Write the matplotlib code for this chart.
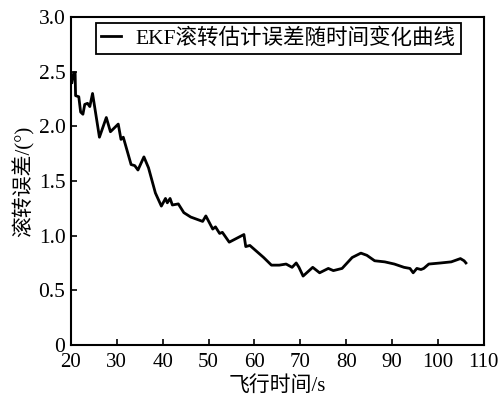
import matplotlib
matplotlib.use("Agg")
import matplotlib.pyplot as plt

# roll error of EKF estimate vs flight time
t = [20.2, 20.6, 20.9, 21.0, 21.7, 22.1, 22.6, 23.0, 23.6, 24.1, 24.7, 26.2, 27.7, 28.6,
     30.3, 30.9, 31.4, 33.1, 33.9, 34.6, 35.9, 36.9, 38.4, 39.7, 40.6, 41.0, 41.6, 42.1,
     43.4, 44.6, 46.1, 48.7, 49.4, 50.9, 51.5, 52.4, 53.0, 54.5, 57.7, 58.1, 59.0, 62.0,
     63.7, 65.4, 66.9, 68.2, 69.1, 69.7, 70.6, 72.7, 74.2, 76.1, 77.2, 79.1, 81.3, 83.2,
     84.5, 86.2, 88.4, 90.5, 92.6, 93.9, 94.6, 95.4, 96.3, 96.9, 98.0, 100.6, 102.9,
     104.9, 105.7, 106.1]
err = [2.40, 2.49, 2.49, 2.28, 2.27, 2.13, 2.11, 2.20, 2.21, 2.18, 2.30, 1.90, 2.08, 1.95,
       2.02, 1.88, 1.90, 1.65, 1.64, 1.60, 1.72, 1.62, 1.39, 1.27, 1.34, 1.30, 1.34, 1.28,
       1.29, 1.21, 1.17, 1.13, 1.18, 1.06, 1.08, 1.02, 1.03, 0.94, 1.01, 0.90, 0.91, 0.80,
       0.73, 0.73, 0.74, 0.71, 0.75, 0.71, 0.63, 0.71, 0.66, 0.70, 0.68, 0.70, 0.80, 0.84,
       0.82, 0.77, 0.76, 0.74, 0.71, 0.70, 0.66, 0.70, 0.69, 0.70, 0.74, 0.75, 0.76,
       0.79, 0.77, 0.75]

xticks = [20, 30, 40, 50, 60, 70, 80, 90, 100, 110]
yticks = [0, 0.5, 1.0, 1.5, 2.0, 2.5, 3.0]
ylabels = ["0", "0.5", "1.0", "1.5", "2.0", "2.5", "3.0"]

plt.rcParams["font.family"] = ["Liberation Serif", "Noto Sans CJK SC"]
plt.rcParams["font.size"] = 15

fig = plt.figure(figsize=(5.01, 4.03), dpi=100)
ax = fig.add_axes([0.1417, 0.144, 0.824, 0.814])

ax.plot(t, err, color="black", lw=2.0, label="EKF滚转估计误差随时间变化曲线")

ax.set_xlim(20, 110)
ax.set_ylim(0, 3.0)
ax.set_xticks(xticks)
ax.set_yticks(yticks)
ax.set_yticklabels(ylabels)
ax.tick_params(direction="in", length=4, width=1.2, labelsize=15.5)
ax.tick_params(axis="x", pad=6, labelsize=15)
ax.tick_params(axis="y", pad=4)
for s in ax.spines.values():
    s.set_linewidth(1.5)

ax.set_xlabel("飞行时间/s", fontsize=15, labelpad=3)
ax.set_ylabel("滚转误差/(°)", fontsize=15, labelpad=3)

leg = ax.legend(loc="upper left", bbox_to_anchor=(0.06, 0.982), borderaxespad=0,
                fancybox=False, edgecolor="black", framealpha=1, handlelength=0.9,
                borderpad=0.25, handletextpad=0.7, fontsize=15.5)
leg.get_frame().set_linewidth(1.3)

fig.savefig("out.png", dpi=100)
